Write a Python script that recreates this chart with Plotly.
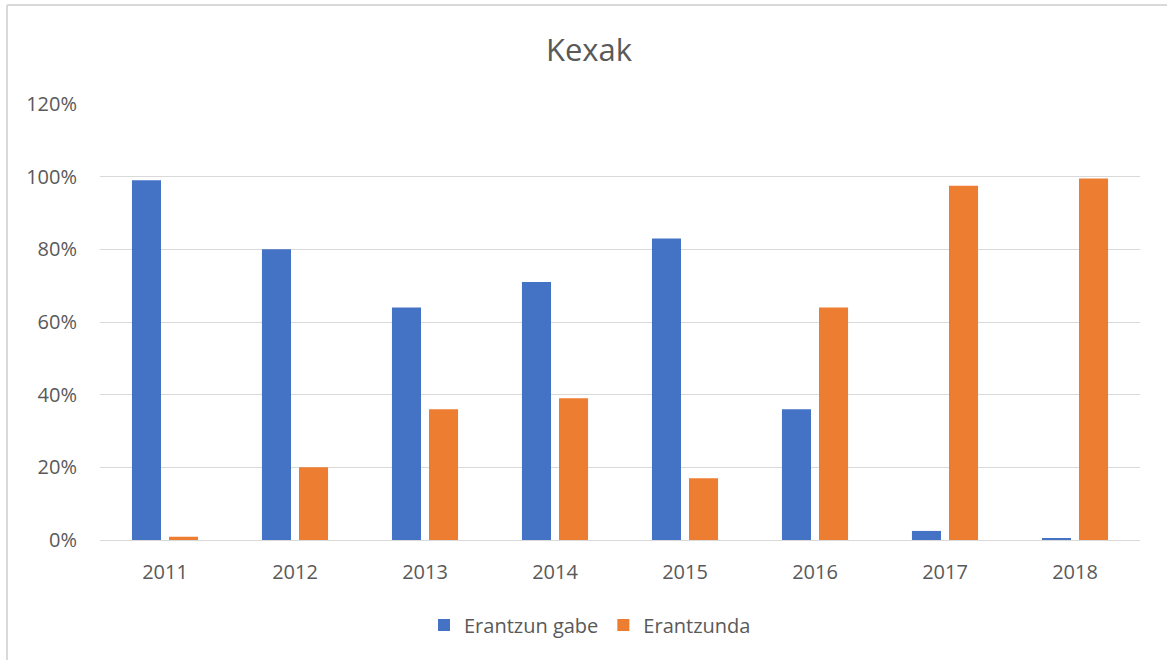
import plotly.graph_objects as go

years = ["2011", "2012", "2013", "2014", "2015", "2016", "2017", "2018"]
erantzun_gabe = [0.99, 0.80, 0.64, 0.71, 0.83, 0.36, 0.025, 0.004]
erantzunda = [0.009, 0.20, 0.36, 0.39, 0.17, 0.64, 0.975, 0.995]
y_ticks = [0, 0.2, 0.4, 0.6, 0.8, 1.0, 1.2]

W, H = 1167, 660
font = "Open Sans, Liberation Sans, sans-serif"

fig = go.Figure()
fig.add_trace(go.Bar(x=years, y=erantzun_gabe, name="Erantzun gabe",
                     marker=dict(color="#4472C4", line=dict(width=0))))
fig.add_trace(go.Bar(x=years, y=erantzunda, name="Erantzunda",
                     marker=dict(color="#ED7D31", line=dict(width=0))))

fig.update_layout(
    width=W, height=H,
    margin=dict(l=100, r=27, t=104, b=120),
    paper_bgcolor="white", plot_bgcolor="white",
    title=dict(text="Kexak", x=589 / W, xanchor="center", y=1 - 50 / H, yanchor="middle",
               font=dict(family=font, size=31, color="#595959")),
    barmode="group", bargap=0.43, bargroupgap=0.216,
    showlegend=True,
    legend=dict(orientation="h", x=0.5 - 30 / 1040, xanchor="center", y=-(625 - 540) / 436, yanchor="middle",
                font=dict(family=font, size=20, color="#595959"), itemwidth=30,
                traceorder="normal"),
    xaxis=dict(showgrid=False, showline=False, ticks="", zeroline=False,
               ticklabelstandoff=18,
               tickfont=dict(family=font, size=20, color="#595959")),
    yaxis=dict(range=[0, 1.2], tickvals=y_ticks, tickformat=".0%",
               showgrid=True, gridcolor="#D9D9D9", gridwidth=1,
               zeroline=True, zerolinecolor="#D9D9D9", zerolinewidth=1,
               showline=False, ticks="", ticklabelstandoff=22,
               tickfont=dict(family=font, size=20, color="#595959")),
)

# Outer chart border (left and top visible)
fig.add_shape(type="line", xref="paper", yref="paper",
              x0=-(100 - 7) / 1040, x1=-(100 - 7) / 1040, y0=-(660 - 540) / 436, y1=(540 - 5) / 436,
              line=dict(color="#D9D9D9", width=2))
fig.add_shape(type="line", xref="paper", yref="paper",
              x0=-(100 - 7) / 1040, x1=(1167 - 100) / 1040, y0=(540 - 5) / 436, y1=(540 - 5) / 436,
              line=dict(color="#D9D9D9", width=2))

fig.write_html("out.html", config={"displayModeBar": False},
               post_script="document.body.style.margin='0';")
